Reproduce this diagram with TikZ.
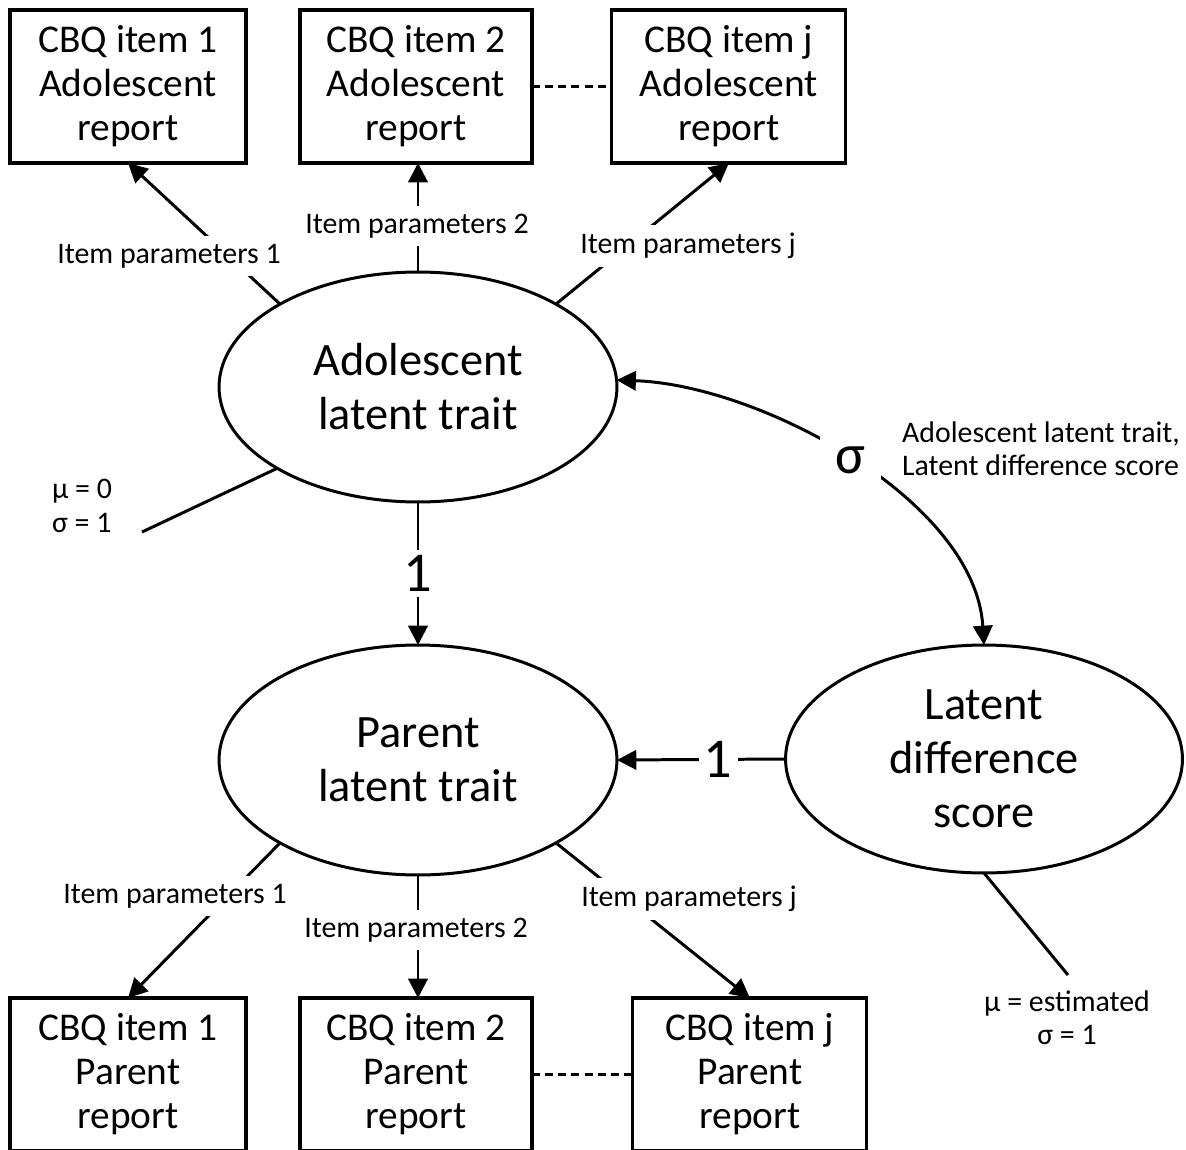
\documentclass[tikz,border=0pt]{standalone}
\usepackage{fontspec}
\setmainfont{Carlito}
\usepackage{tikz}
\usetikzlibrary{arrows.meta}
\usetikzlibrary{shapes.geometric}
\usetikzlibrary{positioning}

\begin{document}
\begin{tikzpicture}[x=0.02cm,y=-0.02cm,>={Triangle[length=11pt,width=11pt]}]
    \tikzstyle{every path}=[line width=1.7pt]
    \tikzstyle{itembox}=[draw=black,line width=1.8pt,outer sep=0pt,inner sep=0pt,minimum width=4.72cm,minimum height=3.06cm,align=center,font=\fontsize{22.4}{25}\selectfont]
    \tikzstyle{latent}=[draw=black,ellipse,outer sep=0pt,inner sep=0pt,minimum width=7.96cm,minimum height=4.6cm,align=center,font=\fontsize{26.4}{30.7}\selectfont]
    \tikzstyle{param}=[fill=white,inner sep=4.5pt,font=\fontsize{17}{19}\selectfont]
    \tikzstyle{coef}=[fill=white,inner sep=3pt,font=\fontsize{32}{36}\selectfont]
    \tikzstyle{note}=[font=\fontsize{17}{19}\selectfont]
    \tikzstyle{dots}=[line width=1.2pt,dash pattern=on 4.5pt off 3pt]

    \useasboundingbox (0,0) rectangle (1186,1149);

    % adolescent report items
    \node[itembox] (adolA) at (128,86.5) {CBQ item 1\\Adolescent\\report};
    \node[itembox,minimum width=4.64cm,right=1.08cm of adolA] (adolB) {CBQ item 2\\Adolescent\\report};
    \node[itembox,minimum width=4.68cm,right=1.6cm of adolB] (adolJ) {CBQ item j\\Adolescent\\report};

    % latent variables
    \node[latent] (adol) at (418,387) {Adolescent\\latent trait};
    \node[latent] (parent) at (418,760) {Parent\\latent trait};
    \node[latent,minimum width=7.94cm,minimum height=4.56cm] (diff) at (984,759) {Latent\\difference\\score};

    % parent report items
    \node[itembox] (parA) at (128,1074.5) {CBQ item 1\\Parent\\report};
    \node[itembox,minimum width=4.64cm,right=1.08cm of parA] (parB) {CBQ item 2\\Parent\\report};
    \node[itembox,minimum width=4.68cm,right=2.02cm of parB] (parJ) {CBQ item j\\Parent\\report};

    \coordinate (muzero) at (142,532);
    \coordinate (muest) at (1068,975);

    \draw[->] (adol.149) -- (adolA.south);
    \draw[->] (adol.north) -- (adol.north |- adolB.south);
    \draw[->] (adol.31) -- (adolJ.south);
    \draw[dots] (adolB.east) -- (adolJ.west);

    \draw[->] (parent.211) -- (parA.north);
    \draw[->] (parent.south) -- (parent.south |- parB.north);
    \draw[->] (parent.329) -- (parJ.north);
    \draw[dots] (parB.east) -- (parJ.west);

    \draw (adol.210) -- (muzero);
    \draw (diff.south) -- (muest);

    \draw[->] (adol.south) -- (parent.north) node[coef,midway] (oneA) {1};
    \draw[->] (diff.west) -- (parent.east) node[coef,pos=0.4] (oneB) {1};
    \draw[<->] (adol.2) .. controls (760,385) and (975,500) .. (diff.north)
        node[coef,inner sep=9pt,pos=0.5] (cov) {σ};

    % labels
    \node[param] (ipA1) at (169,256) {Item parameters 1};
    \node[param] (ipA2) at (417,226) {Item parameters 2};
    \node[param] (ipAj) at (688,246) {Item parameters j};
    \node[param] (ipP1) at (175,896) {Item parameters 1};
    \node[param] (ipP2) at (416,930) {Item parameters 2};
    \node[param] (ipPj) at (689,899) {Item parameters j};

    \node[note,align=left] (muA) at (82,506) {μ = 0\\σ = 1};
    \node[note,align=left] (covtxt) at (1041,449) {Adolescent latent trait,\\Latent difference score};
    \node[note,align=center] (muD) at (1067,1018) {μ = estimated\\σ = 1};

\end{tikzpicture}
\end{document}
